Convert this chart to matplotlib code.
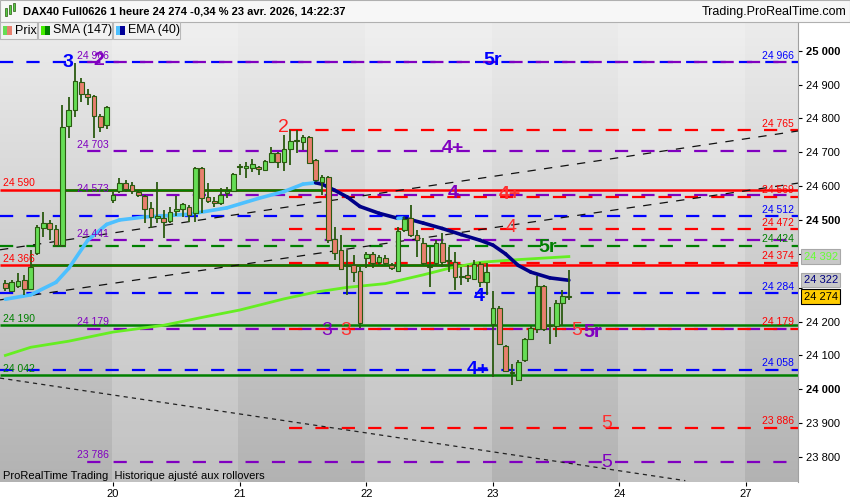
import matplotlib.pyplot as plt
import matplotlib.transforms as mtransforms
from matplotlib.patches import Rectangle
from matplotlib.collections import LineCollection
import numpy as np

plt.rcParams['font.family'] = ['Liberation Sans', 'DejaVu Sans']
plt.rcParams['lines.scale_dashes'] = False

# bougies horaires, index 0 = premiere bougie du 20 avril
bars = list(range(-17, 73))
opens = [24314, 24290, 24305, 24323, 24296, 24403, 24476, 24491, 24473, 24426,
         24778, 24825, 24908, 24872, 24866, 24807, 24781,
         24559, 24586, 24609, 24603, 24583, 24571, 24536, 24506, 24506, 24497,
         24527, 24533, 24538, 24521, 24654, 24568, 24556, 24550, 24580, 24586,
         24657, 24654, 24654, 24657, 24648, 24671, 24698, 24671, 24710, 24733,
         24730, 24745, 24677, 24612, 24627, 24444, 24411, 24364, 24367, 24349,
         24388, 24400, 24376, 24388, 24367, 24349, 24471, 24506, 24456, 24432,
         24364, 24373, 24432, 24382, 24376, 24332, 24338, 24326, 24370, 24317,
         24193, 24240, 24128, 24051, 24027, 24086, 24149, 24178, 24305, 24190,
         24187, 24255, 24276]
highs = [24323, 24323, 24344, 24338, 24411, 24485, 24524, 24500, 24485, 24840,
         24863, 24964, 24920, 24887, 24869, 24813, 24836,
         24583, 24624, 24618, 24612, 24589, 24574, 24553, 24612, 24530, 24538,
         24571, 24550, 24544, 24657, 24657, 24609, 24568, 24595, 24598, 24639,
         24665, 24671, 24680, 24660, 24677, 24716, 24701, 24751, 24766, 24766,
         24751, 24748, 24680, 24633, 24630, 24479, 24456, 24411, 24397, 24361,
         24406, 24406, 24397, 24397, 24373, 24479, 24509, 24544, 24471, 24447,
         24420, 24441, 24462, 24420, 24406, 24361, 24367, 24382, 24376, 24373,
         24290, 24246, 24131, 24075, 24087, 24152, 24187, 24335, 24308, 24243,
         24264, 24293, 24352]
lows = [24290, 24287, 24299, 24279, 24293, 24397, 24450, 24441, 24420, 24420,
        24742, 24804, 24849, 24840, 24742, 24760, 24769,
        24550, 24580, 24583, 24577, 24568, 24491, 24476, 24491, 24447, 24491,
        24512, 24509, 24494, 24494, 24521, 24550, 24538, 24544, 24565, 24583,
        24633, 24624, 24642, 24633, 24645, 24668, 24654, 24645, 24663, 24698,
        24707, 24665, 24612, 24574, 24432, 24382, 24352, 24279, 24317, 24181,
        24358, 24358, 24367, 24367, 24352, 24346, 24465, 24450, 24391, 24367,
        24302, 24367, 24361, 24346, 24293, 24308, 24317, 24323, 24302, 24279,
        24036, 24131, 24051, 24013, 24025, 24081, 24146, 24166, 24172, 24134,
        24154, 24187, 24264]
closes = [24299, 24317, 24320, 24296, 24361, 24479, 24491, 24473, 24426, 24775,
          24825, 24911, 24872, 24863, 24807, 24775, 24834,
          24574, 24609, 24592, 24586, 24574, 24533, 24509, 24512, 24494, 24524,
          24533, 24547, 24515, 24654, 24565, 24556, 24550, 24574, 24586, 24636,
          24660, 24660, 24665, 24651, 24674, 24698, 24671, 24710, 24733, 24736,
          24745, 24668, 24618, 24627, 24441, 24403, 24355, 24367, 24346, 24196,
          24400, 24373, 24391, 24373, 24358, 24468, 24503, 24456, 24441, 24373,
          24361, 24432, 24376, 24379, 24332, 24335, 24329, 24370, 24317, 24346,
          24240, 24134, 24054, 24048, 24081, 24149, 24181, 24305, 24178, 24187,
          24255, 24276, 24274]

ema_bars = [-17, -13, -9, -7, -4, -1, 1, 5, 12, 18, 23, 27, 30, 32, 33, 35, 37, 39,
            42, 45, 46, 49, 52, 55, 58, 60, 62, 64, 66, 69, 72]
ema_vals = [24266, 24279, 24316, 24357, 24440, 24487, 24500, 24509, 24517, 24536,
            24564, 24584, 24606, 24610, 24606, 24588, 24568, 24540, 24520, 24505,
            24506, 24491, 24475, 24457, 24440, 24426, 24400, 24366, 24346, 24329, 24322]
sma_bars = [-17, -13, -7, 0, 8, 14, 20, 27, 32, 37, 43, 49, 53, 58, 64, 72]
sma_vals = [24100, 24124, 24142, 24169, 24189, 24212, 24234, 24267, 24287, 24301,
            24312, 24338, 24357, 24375, 24383, 24392]

day_starts = [0, 20, 40, 60, 80, 100]
day_labels = ['20', '21', '22', '23', '24', '27']
light_days = [0, 40, 80]

blue_levels = [24966, 24512, 24284, 24058]
purple_levels = [24966, 24703, 24573, 24441, 24179, 23786]
red_levels = [24765, 24569, 24472, 24374, 24179, 23886]
green_dash_levels = [24424]
red_solid = [24590, 24366]
green_solid = [24190, 24042]
green_partial = [(24590, -8, 33), (24366, -13, 55)]

# lignes de tendance (debut, fin)
trend_long = [((-17.85, 24412), (108.2, 24763)), ((-17.85, 24264), (108.2, 24609))]
trend_down = ((-17.85, 24033), (90.4, 23730))

waves = [('3', -7.1, 24965, '#0000ff', 'bold'), ('2', -2.2, 24970, '#8000c0', 'bold'),
         ('2', 26.9, 24772, '#ff2020', 'normal'), ('5r', 59.9, 24970, '#0000ff', 'bold'),
         ('4+', 53.7, 24710, '#8000c0', 'bold'), ('4', 53.7, 24577, '#8000c0', 'bold'),
         ('4+', 62.7, 24574, '#ff3030', 'bold'), ('4', 62.9, 24477, '#ff3030', 'normal'),
         ('5r', 68.7, 24420, '#008000', 'bold'), ('4', 57.8, 24273, '#0000ff', 'bold'),
         ('4+', 57.7, 24057, '#0000ff', 'bold'), ('3', 33.8, 24175, '#8000c0', 'normal'),
         ('3', 36.8, 24175, '#ff3030', 'normal'), ('5', 73.3, 24175, '#ff3030', 'normal'),
         ('5r', 75.8, 24169, '#8000c0', 'bold'), ('5', 77.9, 23900, '#ff3030', 'normal'),
         ('5', 77.9, 23785, '#8000c0', 'normal')]

left_labels = [(24590, '#ff0000'), (24366, '#ff0000'), (24190, '#008000'), (24042, '#008000')]
purple_labels = [24966, 24703, 24573, 24441, 24179, 23786]
right_labels = [(24966, '#0000ff'), (24765, '#ff0000'), (24569, '#ff0000'), (24512, '#0000ff'),
                (24472, '#ff0000'), (24424, '#008000'), (24374, '#ff0000'), (24284, '#0000ff'),
                (24179, '#ff0000'), (24058, '#0000ff'), (23886, '#ff0000')]


def fmt(v):
    return f"{v:,}".replace(",", " ")


fig = plt.figure(figsize=(8.5, 5), dpi=100, facecolor='white')
ax = fig.add_axes([0, 18 / 500, 798 / 850, 460 / 500])
xmin, xmax = -17.85, 108.2
ymin, ymax = 23726, 25085
ax.set_xlim(xmin, xmax)
ax.set_ylim(ymin, ymax)

# fond degrade + bandes journalieres
grad = np.linspace(0.925, 0.70, 200).reshape(-1, 1)
ax.imshow(np.dstack([grad, grad, grad]), extent=[xmin, xmax, ymin, ymax],
          aspect='auto', origin='upper', zorder=0)
for d in light_days:
    ax.axvspan(d - 0.2, d + 19.8, color='white', alpha=0.2, lw=0, zorder=0.5)

dash = (0, (9.5, 9.5))
for v in blue_levels:
    ax.hlines(v, xmin, xmax, colors='#0000ff', lw=1.6, linestyles=dash, zorder=2)
for v in purple_levels:
    ax.hlines(v, -6.15, xmax - 1.5, colors='#8000c0', lw=1.6, linestyles=(9.5, (9.5, 9.5)), zorder=2)
for v in red_levels:
    ax.hlines(v, 27.8, xmax, colors='#ff0000', lw=1.6, linestyles=dash, zorder=2.1)
for v in green_dash_levels:
    ax.hlines(v, xmin, xmax, colors='#008000', lw=1.6, linestyles=dash, zorder=2)
for v in red_solid:
    ax.hlines(v, xmin, xmax, colors='#ff0000', lw=1.8, zorder=2.2)
for v in green_solid:
    ax.hlines(v, xmin, xmax, colors='#008000', lw=1.8, zorder=2.2)
for v, a, b in green_partial:
    ax.hlines(v, a, b, colors='#008000', lw=1.8, zorder=2.3)

for (x0, y0), (x1, y1) in trend_long:
    ax.plot([x0, x1], [y0, y1], color='#111111', lw=0.9, ls=(0, (6, 6)), zorder=2.4)
ax.plot([trend_down[0][0], trend_down[1][0]], [trend_down[0][1], trend_down[1][1]],
        color='#222222', lw=0.9, ls=(0, (3, 3)), zorder=2.4)

# SMA
ax.plot(sma_bars, sma_vals, color='#66ee22', lw=2, zorder=3)

# EMA colore selon la pente
pts = np.column_stack([ema_bars, ema_vals])
segs = np.stack([pts[:-1], pts[1:]], axis=1)
cols = ['#4dc0ff' if b >= a else '#000088' for a, b in zip(ema_vals[:-1], ema_vals[1:])]
ax.add_collection(LineCollection(segs, colors=cols, linewidths=2.6, zorder=3, capstyle='round'))

# bougies
o = np.array(opens)
c = np.array(closes)
up = c >= o
ax.vlines(bars, lows, highs, colors='#2a5a10', lw=1.3, zorder=4)
body_h = np.maximum(np.abs(c - o), 1.5)
ax.bar(bars, body_h, bottom=np.minimum(o, c), width=0.74,
       color=np.where(up, '#66dd55', '#e8806e'), edgecolor='#2a5a10', lw=0.8, zorder=5)

for t, x, y, col, w in waves:
    ax.text(x, y, t, color=col, fontsize=14, fontweight=w, ha='center', va='center', zorder=6)

for v, col in left_labels:
    ax.text(-17.4, v + 4, fmt(v), color=col, fontsize=7.5, va='bottom', ha='left', zorder=6)
for v in purple_labels:
    ax.text(-5.7, v + 4, fmt(v), color='#8000c0', fontsize=7.5, va='bottom', ha='left', zorder=6)
for v, col in right_labels:
    ax.text(107.6, v + 4, fmt(v), color=col, fontsize=7.5, va='bottom', ha='right', zorder=6)

# axe des prix a droite
ax.yaxis.tick_right()
ticks = list(range(23800, 25001, 100))
ax.set_yticks(ticks)
ax.set_yticklabels(['' if t in (24300, 24400) else fmt(t) for t in ticks])
for lab, t in zip(ax.get_yticklabels(), ticks):
    if t % 500 == 0:
        lab.set_fontweight('bold')
        lab.set_fontsize(8.5)
ax.tick_params(axis='y', labelsize=8, length=3, pad=3, colors='black')
ax.set_xticks(day_starts)
ax.set_xticklabels(day_labels)
ax.tick_params(axis='x', labelsize=8, length=3, pad=2)
for s in ['top', 'left', 'bottom']:
    ax.spines[s].set_visible(False)
ax.spines['right'].set_color('#a0a0a0')

trans = mtransforms.blended_transform_factory(ax.transAxes, ax.transData)
boxes = [(24392, '24 392', '#66ff33', '#c8c8c8', '#a8a8a8'),
         (24322, '24 322', '#000080', '#c8c8c8', '#a8a8a8'),
         (24274, '24 274', '#000000', '#ffcc00', '#000000')]
for v, t, tc, fc, ec in boxes:
    ax.text(1.007, v, t, transform=trans, color=tc, fontsize=8, ha='left', va='center',
            bbox=dict(boxstyle='square,pad=0.2', fc=fc, ec=ec, lw=0.8), clip_on=False, zorder=20)

# entete et legende
ov = fig.add_axes([0, 0, 1, 1], facecolor='none')
ov.set_xlim(0, 850)
ov.set_ylim(500, 0)
ov.axis('off')
ov.set_zorder(10)
ov.add_patch(Rectangle((0, 0), 850, 21.5, fc='#f7f7f7', ec='#b0b0b0', lw=0.8))
for i, (yt, yb) in enumerate([(8, 16), (5, 14), (3, 11)]):
    ov.add_patch(Rectangle((5 + 4 * i, yt), 2.2, yb - yt, fc='#55cc44', ec='#2a5a10', lw=0.5))
ov.text(23, 11.5, 'DAX40 Full0626 1 heure 24 274 -0,34 % 23 avr. 2026, 14:22:37',
        fontsize=8, fontweight='bold', va='center', ha='left')
ov.text(846, 11.5, 'Trading.ProRealTime.com', fontsize=9, va='center', ha='right')
legend = [(0, 37, 'Prix', '#66dd55', '#e8806e'), (38, 74, 'SMA (147)', '#44ee00', '#008000'),
          (113, 67, 'EMA (40)', '#4dc0ff', '#000099')]
for x0, w, t, c1, c2 in legend:
    ov.add_patch(Rectangle((x0, 22), w, 16.5, fc='#f2f2f2', ec='#b8b8b8', lw=0.8))
    ov.add_patch(Rectangle((x0 + 3, 26), 4.5, 9, fc=c1, lw=0))
    ov.add_patch(Rectangle((x0 + 7.5, 26), 4.5, 9, fc=c2, lw=0))
    ov.text(x0 + 15, 30.5, t, fontsize=9, va='center', ha='left')
ov.text(3, 476, 'ProRealTime Trading  Historique ajusté aux rollovers', fontsize=8,
        va='center', ha='left')

fig.savefig('out.png', dpi=100)
